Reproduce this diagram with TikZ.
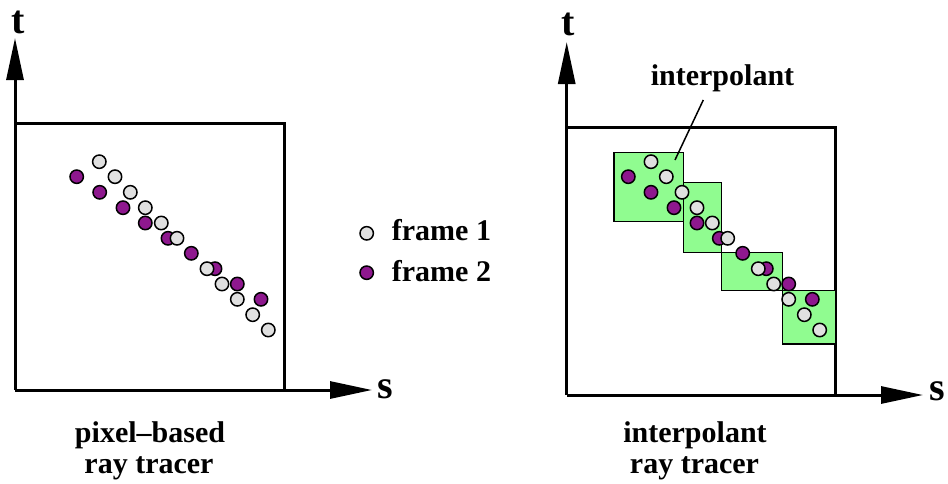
\documentclass[tikz,border=0pt]{standalone}
\usepackage{fontspec}
\setmainfont{Liberation Serif}
\usetikzlibrary{arrows.meta}
\definecolor{dotgray}{RGB}{224,224,224}
\definecolor{dotpurple}{RGB}{142,24,142}
\definecolor{boxgreen}{RGB}{144,252,144}
\tikzset{
  axis/.style={line width=3pt,-{Triangle[length=42pt,width=17pt]}},
  frame/.style={line width=3pt},
  dotbase/.style={circle,draw=black,line width=1.5pt,minimum size=13.4pt,inner sep=0pt},
  gdot/.style={dotbase,fill=dotgray},
  pdot/.style={dotbase,fill=dotpurple},
  patch/.style={draw=black,line width=1.5pt,fill=boxgreen},
  lbl/.style={font=\bfseries\fontsize{30}{31}\selectfont,inner sep=0pt,anchor=base},
  axlbl/.style={font=\bfseries\fontsize{40}{40}\selectfont,inner sep=0pt,anchor=base},
}
\begin{document}
\begin{tikzpicture}[x=1pt,y=-1pt]
\useasboundingbox (0,0) rectangle (948,483);
% ---------- left panel ----------
\coordinate (Lo) at (15,390);
\coordinate (Lt) at (15,38);
\coordinate (Ls) at (372,390);
\draw[frame] (15,123) -- (284,123) -- (284,390);
\draw[axis] (Lo) -- (Lt);
\draw[axis] (Lo) -- (Ls);
\node[axlbl] (Ltl) at (18,33) {t};
\node[axlbl] (Lsl) at (385.5,398) {s};
% purple dots
\foreach \x/\y [count=\i] in {76.7/176.7, 99.7/192.3, 123/207.7, 145.3/223, 168/238.3, 191.3/253.3, 215/268.7, 237.3/284, 261/299.3}
  \node[pdot] (Lp\i) at (\x,\y) {};
% gray dots
\foreach \x/\y [count=\i] in {99.3/161.7, 115/176.7, 130.3/192.3, 145.3/207.7, 161.3/223, 177/238.3, 207/268.7, 222/284, 237.3/299.3, 252.7/314.7, 268.3/330}
  \node[gdot] (Lg\i) at (\x,\y) {};
\node[lbl] (Lcap1) at (150,442) {pixel–based};
\node[lbl] (Lcap2) at (149,473) {ray tracer};
% ---------- legend ----------
\node[gdot] (leg1) at (366.7,233.3) {};
\node[pdot] (leg2) at (366.7,272.7) {};
\node[lbl,anchor=base west] (leg1t) at (391.7,240.7) {frame 1};
\node[lbl,anchor=base west] (leg2t) at (391.7,281.7) {frame 2};
% ---------- right panel ----------
\coordinate (Ro) at (566.7,395);
\coordinate (Rt) at (566.7,42);
\coordinate (Rs) at (923,395);
\draw[frame] (566.7,127.7) -- (835.7,127.7) -- (835.7,395);
\draw[axis] (Ro) -- (Rt);
\draw[axis] (Ro) -- (Rs);
\node[axlbl] (Rtl) at (568,35) {t};
\node[axlbl] (Rsl) at (937,400.5) {s};
% interpolant patches
\draw[patch] (614,152.7) rectangle (683.3,221.7);
\draw[patch] (683.3,182.7) rectangle (721.7,252.3);
\draw[patch] (721.7,252.3) rectangle (782.7,290.7);
\draw[patch] (782.7,290.7) rectangle (835.7,344);
% purple dots
\foreach \x/\y [count=\i] in {628.3/176.7, 651/192.3, 674/207.7, 697/223, 719.3/238.3, 742.7/253.3, 766.3/268.7, 788.7/284, 812.3/299.3}
  \node[pdot] (Rp\i) at (\x,\y) {};
% gray dots
\foreach \x/\y [count=\i] in {651/161.7, 666.3/176.7, 682/192.3, 697/207.7, 712.3/223, 727.7/238.3, 758.3/268.7, 773.7/284, 788.7/299.3, 804.3/314.7, 819.7/330}
  \node[gdot] (Rg\i) at (\x,\y) {};
% label with leader
\node[lbl] (ilbl) at (722.5,85) {interpolant};
\coordinate (lead1) at (703.3,100);
\coordinate (lead2) at (675,160);
\draw[line width=1.5pt] (lead1) -- (lead2);
\node[lbl] (Rcap1) at (695,442) {interpolant};
\node[lbl] (Rcap2) at (694.5,473) {ray tracer};
\end{tikzpicture}
\end{document}
